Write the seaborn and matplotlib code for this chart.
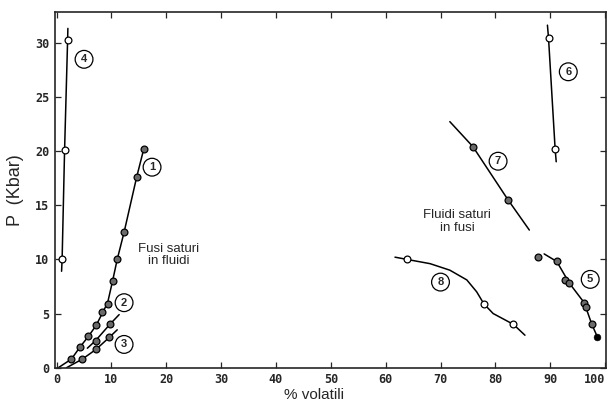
import numpy as np
import matplotlib
matplotlib.use("Agg")
import matplotlib.pyplot as plt
import seaborn as sns

# =========================================
#  Data (x = % volatili, y = P in Kbar)
# =========================================

# curve 1 (filled points)
c1_x = [2.7, 4.25, 5.8, 7.2, 8.3, 9.3, 10.2, 11.05, 12.3, 14.6, 15.9]
c1_y = [0.8, 1.9, 2.9, 3.9, 5.1, 5.9, 8.0, 10.0, 12.5, 17.6, 20.2]
c1_line_x = [0.3, 2.7, 4.25, 5.8, 7.2, 8.3, 9.3, 10.2, 11.05, 12.3, 14.6, 15.9]
c1_line_y = [0.0, 0.8, 1.9, 2.9, 3.9, 5.0, 6.0, 8.0, 10.0, 12.5, 17.6, 20.2]

# curve 2
c2_x = [7.1, 9.7]
c2_y = [2.5, 4.0]
c2_line_x = [5.6, 7.1, 9.7, 11.4]
c2_line_y = [1.8, 2.5, 4.0, 4.9]

# curve 3
c3_x = [4.7, 7.2, 9.6]
c3_y = [0.8, 1.7, 2.8]
c3_line_x = [1.8, 4.7, 7.2, 9.6, 11.05]
c3_line_y = [0.0, 0.8, 1.7, 2.8, 3.5]

# curve 4 (open points)
c4_x = [1.0, 1.45, 2.0]
c4_y = [10.0, 20.1, 30.2]
c4_line_x = [0.9, 1.0, 1.45, 2.0, 2.05]
c4_line_y = [8.9, 10.0, 20.1, 30.2, 31.3]

# curve 5
c5_x = [87.8, 91.2, 92.7, 93.5, 96.2, 96.6, 97.6]
c5_y = [10.2, 9.8, 8.1, 7.8, 6.0, 5.6, 4.0]
c5_end_x = [98.6]
c5_end_y = [2.85]
c5_line_x = [88.9, 91.2, 93.5, 96.2, 97.6, 98.6]
c5_line_y = [10.5, 9.8, 7.8, 6.0, 4.0, 2.85]

# curve 6 (open points)
c6_x = [89.7, 90.9]
c6_y = [30.4, 20.2]
c6_line_x = [89.5, 89.7, 90.9, 91.1]
c6_line_y = [31.6, 30.4, 20.2, 19.0]

# curve 7
c7_x = [75.9, 82.3]
c7_y = [20.4, 15.5]
c7_line_x = [71.7, 75.9, 82.3, 86.2]
c7_line_y = [22.7, 20.4, 15.5, 12.7]

# curve 8 (open points)
c8_x = [63.8, 77.9, 83.3]
c8_y = [10.0, 5.9, 4.0]
c8_line_x = [61.7, 63.8, 68.1, 71.7, 74.8, 76.6, 77.9, 79.6, 83.3, 85.4]
c8_line_y = [10.2, 10.0, 9.6, 9.0, 8.1, 7.0, 5.9, 5.0, 4.0, 3.0]

# circled curve numbers
tag_text = ["1", "2", "3", "4", "5", "6", "7", "8"]
tag_x = [17.4, 12.3, 12.3, 5.0, 97.3, 93.3, 80.5, 70.0]
tag_y = [18.5, 6.0, 2.15, 28.45, 8.15, 27.3, 19.05, 7.9]

x_ticks = [0, 10, 20, 30, 40, 50, 60, 70, 80, 90, 100]
y_ticks = [0, 5, 10, 15, 20, 25, 30]

# =========================================
#  Plot
# =========================================
sns.set_style("ticks")
plt.rcParams["font.family"] = ["Liberation Sans", "DejaVu Sans"]

fig = plt.figure(figsize=(6.11, 4.05), dpi=100)
ax = fig.add_axes([0.09, 0.092, 0.902, 0.878])

line_kw = dict(color="black", linewidth=1.1, sort=False, estimator=None, legend=False)
for lx, ly in [(c1_line_x, c1_line_y), (c2_line_x, c2_line_y), (c3_line_x, c3_line_y),
               (c4_line_x, c4_line_y), (c5_line_x, c5_line_y), (c6_line_x, c6_line_y),
               (c7_line_x, c7_line_y), (c8_line_x, c8_line_y)]:
    sns.lineplot(x=lx, y=ly, ax=ax, **line_kw)

filled_kw = dict(s=24, color="#6a6a6a", edgecolor="black", linewidth=0.9, zorder=3, legend=False)
open_kw = dict(s=24, color="white", edgecolor="black", linewidth=0.9, zorder=3, legend=False)

for px, py in [(c1_x, c1_y), (c2_x, c2_y), (c3_x, c3_y), (c5_x, c5_y), (c7_x, c7_y)]:
    sns.scatterplot(x=px, y=py, ax=ax, **filled_kw)
sns.scatterplot(x=c5_end_x, y=c5_end_y, ax=ax, s=24, color="black", edgecolor="black",
                zorder=3, legend=False)
for px, py in [(c4_x, c4_y), (c6_x, c6_y), (c8_x, c8_y)]:
    sns.scatterplot(x=px, y=py, ax=ax, **open_kw)

for t, tx, ty in zip(tag_text, tag_x, tag_y):
    ax.text(tx, ty, t, ha="center", va="center", fontsize=8, fontweight="bold",
            bbox=dict(boxstyle="circle,pad=0.35", fc="white", ec="black", lw=0.9))

ax.text(20.4, 10.4, "Fusi saturi\nin fluidi", ha="center", va="center", fontsize=9.5,
        linespacing=1.1)
ax.text(73.0, 13.5, "Fluidi saturi\nin fusi", ha="center", va="center", fontsize=9.5,
        linespacing=1.1)

ax.set_xlim(-0.3, 100.2)
ax.set_ylim(0, 32.8)
ax.set_xticks(x_ticks)
ax.set_yticks(y_ticks)
ax.tick_params(direction="in", top=True, right=True, length=4, width=0.9,
               labelsize=8, pad=4)
for lab in ax.get_xticklabels() + ax.get_yticklabels():
    lab.set_family("DejaVu Sans Mono")
    lab.set_fontweight("bold")
    lab.set_fontsize(8.5)
# the last x label sits right on the figure edge; pull it in a touch
ax.get_xticklabels()[-1].set_horizontalalignment("right")
ax.get_xticklabels()[-1].set_x(100.2)

for sp in ax.spines.values():
    sp.set_visible(True)
    sp.set_linewidth(1.2)

ax.set_xlabel("% volatili", fontsize=11)
ax.xaxis.set_label_coords(0.47, -0.058)
ax.set_ylabel("P  (Kbar)", fontsize=13, labelpad=8)

plt.savefig("out.png", dpi=100)
plt.close()
